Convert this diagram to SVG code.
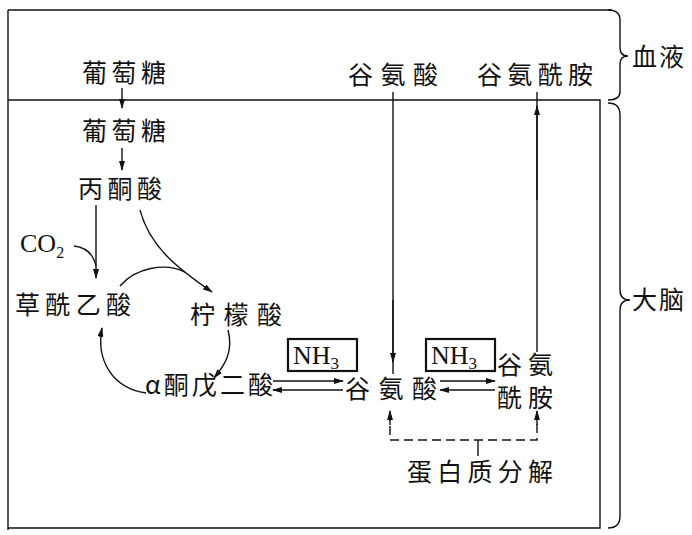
<svg xmlns="http://www.w3.org/2000/svg" width="692" height="535" viewBox="0 0 692 535">
<style>
.t{font-family:"Noto Sans CJK SC","Noto Sans",sans-serif;font-size:25px;fill:#111}
.s{font-family:"Liberation Serif",serif;font-size:26px;fill:#111}
.ln{fill:none;stroke:#111;stroke-width:1.4}
.box{fill:none;stroke:#111;stroke-width:2.2}
.dash{fill:none;stroke:#111;stroke-width:1.4;stroke-dasharray:9 5}
</style>
<defs>
<marker id="ah" viewBox="0 0 10 6" refX="9" refY="3" markerWidth="10" markerHeight="6" markerUnits="userSpaceOnUse" orient="auto">
<path d="M0,0 L10,3 L0,6 Z" fill="#111"/>
</marker>
</defs>
<rect width="692" height="535" fill="#fff"/>
<g id="frame" class="ln">
<path d="M8,10 L612,10"/>
<path d="M8,10 L8,530"/>
<path d="M8,100 L600,100 L600,528 L8,528"/>
<path d="M608,10 Q620,10 620,20 L620,48 Q620,56 628,56 Q620,56 620,64 L620,92 Q620,100 608,100"/>
<path d="M608,103 Q620,103 620,115 L620,290 Q620,300 630,300 Q620,300 620,310 L620,516 Q620,528 608,528"/>
</g>
<g id="labels">
<text class="t" x="632" y="66" textLength="52">血液</text>
<text class="t" x="632" y="309" textLength="52">大脑</text>
</g>
<g id="glucose-blood"><text class="t" x="82" y="82" textLength="84">葡萄糖</text></g>
<g id="glucose-brain"><text class="t" x="82" y="140" textLength="84">葡萄糖</text></g>
<g id="pyruvate"><text class="t" x="78" y="198" textLength="84">丙酮酸</text></g>
<g id="co2"><text class="s" x="20" y="252">CO<tspan font-size="16" dy="6">2</tspan></text></g>
<g id="oxaloacetate"><text class="t" x="15" y="314" textLength="116">草酰乙酸</text></g>
<g id="citrate"><text class="t" x="190" y="324" textLength="92">柠檬酸</text></g>
<g id="akg"><text class="t" x="145" y="394" textLength="128">α酮戊二酸</text></g>
<g id="glu-brain"><text class="t" x="345" y="398" textLength="92">谷氨酸</text></g>
<g id="gln-brain"><text class="t" x="497" y="374" textLength="56" font-size="23">谷氨</text><text class="t" x="497" y="407" textLength="56" font-size="23">酰胺</text></g>
<g id="glu-blood"><text class="t" x="348" y="84" textLength="90">谷氨酸</text></g>
<g id="gln-blood"><text class="t" x="477" y="84" textLength="116">谷氨酰胺</text></g>
<g id="protein"><text class="t" x="407" y="481" textLength="146">蛋白质分解</text></g>
<g id="nh3-1"><rect class="box" x="288" y="339" width="69" height="32"/><text class="s" x="293" y="364">NH<tspan font-size="17" dy="5">3</tspan></text></g>
<g id="nh3-2"><rect class="box" x="426" y="339" width="69" height="32"/><text class="s" x="431" y="364">NH<tspan font-size="17" dy="5">3</tspan></text></g>
<g id="connectors" class="ln">
<path d="M122,88 L122,108" marker-end="url(#ah)"/>
<path d="M122,148 L122,170" marker-end="url(#ah)"/>
<path d="M96,205 L96,278" marker-end="url(#ah)"/>
<path d="M74,246 Q92,248 96,266"/>
<path d="M140,210 C150,248 180,270 212,292" marker-end="url(#ah)"/>
<path d="M120,286 C135,268 165,262 185,272"/>
<path d="M228,330 C234,352 224,366 214,378" marker-end="url(#ah)"/>
<path d="M146,393 C112,388 96,360 102,328" marker-end="url(#ah)"/>
<path d="M273,381 L343,381" marker-end="url(#ah)"/>
<path d="M343,390 L273,390" marker-end="url(#ah)"/>
<path d="M440,381 L495,381" marker-end="url(#ah)"/>
<path d="M495,390 L440,390" marker-end="url(#ah)"/>
<path d="M393,92 L393,374"/>
<path d="M393,300 L393,362" marker-end="url(#ah)"/>
<path d="M537,352 L537,92"/>
<path d="M537,200 L537,106" marker-end="url(#ah)"/>
<path class="dash" d="M390,412 L390,440 L537,440 L537,412"/>
<path d="M390,425 L390,411" marker-end="url(#ah)"/>
<path d="M537,425 L537,411" marker-end="url(#ah)"/>
<path d="M478,440 L478,456"/>
</g>
</svg>
